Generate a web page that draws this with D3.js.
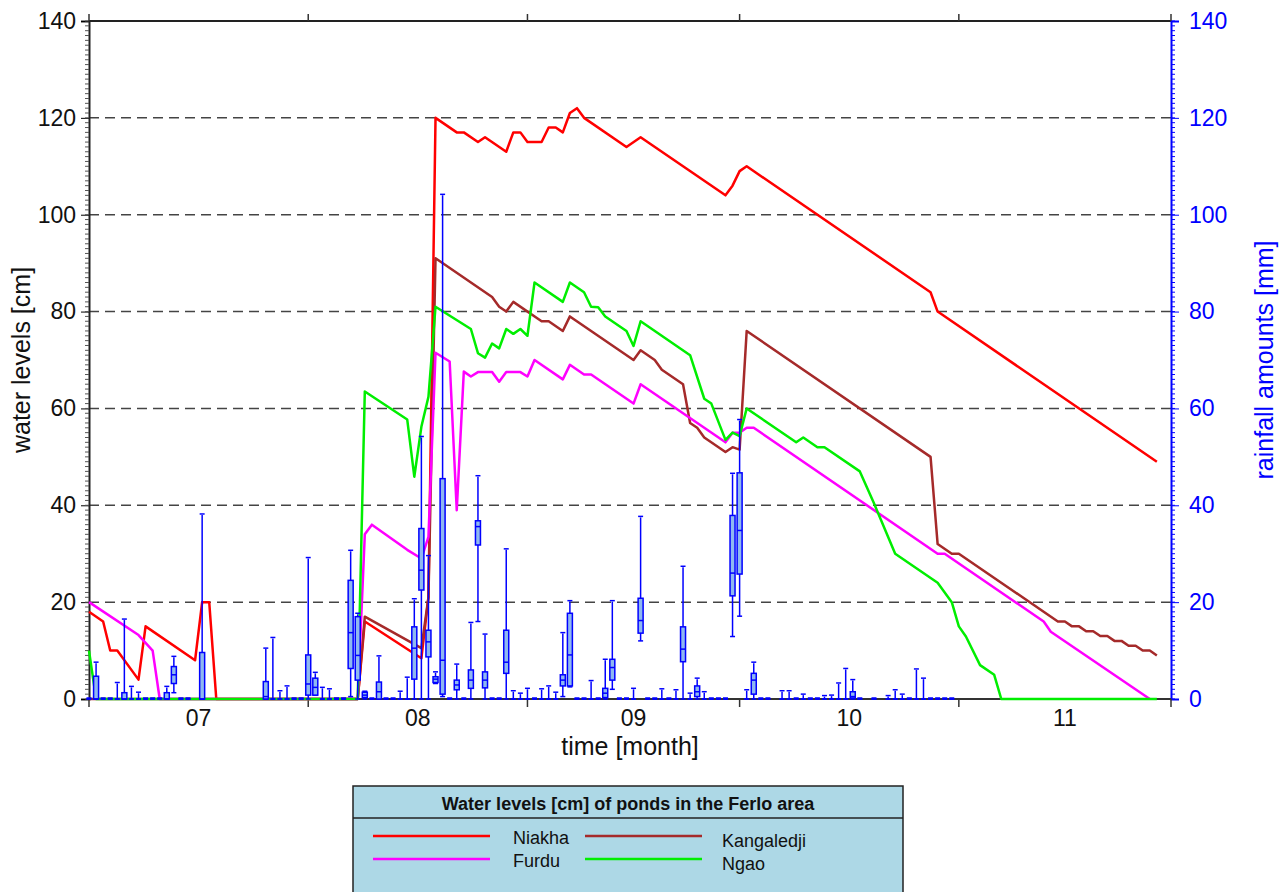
<!doctype html>
<html lang="en">
<head>
<meta charset="UTF-8">
<script src="https://cdnjs.cloudflare.com/ajax/libs/d3/7.8.5/d3.min.js"></script>
<title>Ferlo ponds</title>
<style>
  body { margin: 0; background: #fff; }
  text { font-family: "Liberation Sans", Arial, sans-serif; }
</style>
</head>
<body>
<div id="chart"></div>
<script>
// days counted from 1 July
const monthStarts = [0, 31, 62, 92, 123, 153];
const monthLabels = ["07", "08", "09", "10", "11"];
const yTicks = [0, 20, 40, 60, 80, 100, 120, 140];

// [day, water level cm]
const niakha = [[0,18],[2,16],[3,10],[4,10],[7,4],[8,15],[15,8],[16,20],[17,20],[18,0],[38,0],[39,16],[47,8.4],[48,21],
  [49,120],[52,117],[53,117],[55,115],[56,116],[59,113],[60,117],[61,117],[62,115],[64,115],[65,118],[66,118],[67,117],
  [68,121],[69,122],[70,120],[76,114],[78,116],[90,104],[91,106],[92,109],[93,110],[119,84],[120,80],[151,49]];
const kangaledji = [[0,0],[38,0],[39,17],[47,10.5],[48,21],[49,91],[57,83],[58,81],[59,80],[60,82],[64,78],[65,78],
  [67,76],[68,79],[77,70],[78,72],[80,70],[81,68],[84,65],[85,57],[86,56],[87,54],[90,51],[91,52],[92,51.5],[93,76],
  [119,50],[120,32],[122,30],[123,30],[137,16],[138,16],[139,15],[140,15],[141,14],[142,14],[143,13],[144,13],
  [145,12],[146,12],[147,11],[148,11],[149,10],[150,10],[151,9]];
const furdu = [[0,20],[7,13.2],[8,11.6],[9,10],[10,0],[38,0],[39,34],[40,36],[45,30.8],[47,29],[48,33.5],[49,71.5],
  [51,69.7],[52,39],[53,67.6],[54,66.6],[55,67.5],[57,67.5],[58,65.5],[59,67.5],[61,67.5],[62,66.6],[63,70],[67,66],
  [68,69],[70,67],[71,67],[77,61],[78,65],[90,53],[91,55],[92,55],[93,56],[94,56],[120,30],[121,30],[135,16],
  [136,13.9],[150,0]];
const ngao = [[0,10],[1,0],[38,0],[39,63.5],[45,57.7],[46,45.9],[47,56.2],[48,62.4],[49,81],[54,76.4],[55,71.4],
  [56,70.5],[57,73.4],[58,72.4],[59,76.4],[60,75.4],[61,76.4],[62,75],[63,86],[67,82],[68,86],[70,84],[71,81],
  [72,80.9],[73,79],[76,76],[77,72.9],[78,78],[85,71],[87,62],[88,61],[90,53.5],[91,55],[92,54.3],[93,60],[100,53],
  [101,54],[103,52],[104,52],[109,47],[111,40.4],[114,30],[120,24],[122,20],[123,15],[124,12.9],[126,7],[128,5],
  [129,0],[151,0]];

// rainfall [day, low, q1, median, q3, high] in mm
const rain = [[0,0,0,0,0,0],[1,0,0,0,4.7,7.4],[2,0,0,0,0,0],[3,0,0,0,0,0],[4,0,0,0,0,3.2],[5,0,0,0,1.3,16.3],
  [6,0,0,0,0,2.4],[7,0,0,0,0,1.2],[8,0,0,0,0,0],[9,0,0,0,0,0],[10,0,0,0,0,0],[11,0,0,0,1.3,2.4],
  [12,1.3,3.2,5,6.7,8.6],[13,0,0,0,0,0],[14,0,0,0,0,0],[16,0,0,0,9.6,38],
  [25,0,0,0.5,3.6,10.3],[26,0,0,0,0,12.5],[27,0,0,0,0,1.5],[28,0,0,0,0,2.5],[29,0,0,0,0,0],[30,0,0,0,0,0],
  [31,0,0.8,3.1,9.1,29],[32,0.8,0.8,2.4,4.3,5.3],[33,0,0,0,0,2.2],[34,0,0,0,0,1.9],[35,0,0,0,0,0],[36,0,0,0,0,0],
  [37,0.5,6.3,13.7,24.5,30.5],[38,0,3.9,9,17,17.5],[39,0,0.3,0.8,1.4,1.4],[40,0,0,0,0,0],[41,0,0,1.5,3.5,8.7],
  [42,0,0,0,0,0],[43,0,0,0,0,0],[44,0,0,0,0,1.4],[45,0,0,0,0,4.3],[46,0,4.1,10.5,14.9,20.5],
  [47,0,22.5,26.6,35.2,54],[48,0,8.7,11.8,14.2,29.4],[49,3.2,3.4,4.1,4.6,5.4],[50,0.5,1,8,45.5,104],
  [51,0,0,0,0,0],[52,0,1.9,2.9,3.9,7],[53,0,0,0,0,0],[54,0,2.2,3.9,6,15.6],[55,16,31.8,35.6,36.8,45.9],
  [56,0,2.3,3.9,5.6,13.2],[57,0,0,0,0,0],[58,0,0,0,0,0],[59,0,5.3,7.6,14.2,30.8],[60,0,0,0,0,1.5],
  [61,0,0,0,0,1],[62,0,0,0,0,2],[63,0,0,0,0,0],[64,0,0,0,0,1.9],[65,0,0,0,0,2.5],[66,0,0,0,0,1.2],
  [67,0.5,2.7,3.9,5,13.5],[68,2.5,2.7,9.1,17.7,20.1],[69,0,0,0,0,0],[70,0,0,0,0,0],[71,0,0,0,0,3.6],
  [72,0,0,0,0,0],[73,0,0.3,1.2,2.2,8],[74,2,3.9,6.5,8.2,20.1],[75,0,0,0,0,0],[76,0,0,0,0,0],[77,0,0,0,0,2],
  [78,12,13.6,16.2,20.8,37.5],[79,0,0,0,0,0],[80,0,0,0,0,0],[81,0,0,0,0,1.9],[82,0,0,0,0,0],[83,0,0,0,0,1.7],
  [84,0,7.7,10.3,14.9,27.2],[85,0,0,0,0,1],[86,0,0.5,1.5,2.7,4.1],[87,0,0,0,0,1.3],[88,0,0,0,0,0],
  [89,0,0,0,0,0],[90,0,0,0,0,0],[91,12.9,21.3,26,37.9,46.4],[92,17.1,25.8,34.8,46.7,57.5],[93,0,0,0,0,1.7],
  [94,0,1,3.9,5.3,7.4],[95,0,0,0,0,0],[96,0,0,0,0,0],[98,0,0,0,0,1.5],[99,0,0,0,0,1.5],[100,0,0,0,0,0],
  [101,0,0,0,0,0.8],[102,0,0,0,0,0],[103,0,0,0,0,0],[104,0,0,0,0,0.5],[105,0,0,0,0,0.6],[106,0,0,0,0,3.1],
  [107,0,0,0,0,6.1],[108,0,0.2,0.5,1.5,3.8],[109,0,0,0,0,0],[111,0,0,0,0,0],[113,0,0,0,0,0.5],
  [114,0,0,0,0,1.7],[115,0,0,0,0,0.8],[116,0,0,0,0,0],[117,0,0,0,0,6],[118,0,0,0,0,4.1],[119,0,0,0,0,0],
  [120,0,0,0,0,0],[121,0,0,0,0,0],[122,0,0,0,0,0]];

const series = [
  {name: "Niakha", values: niakha, color: "#ff0000"},
  {name: "Kangaledji", values: kangaledji, color: "#a52a2a"},
  {name: "Furdu", values: furdu, color: "#ff00ff"},
  {name: "Ngao", values: ngao, color: "#00ee00"}
];

const W = 1284, H = 892;
const margin = {top: 21, right: 113, bottom: 193, left: 89},
    width = W - margin.left - margin.right,
    height = H - margin.top - margin.bottom;

const svg = d3.select("#chart").append("svg")
    .attr("width", W).attr("height", H);
const g = svg.append("g").attr("transform", `translate(${margin.left},${margin.top})`);

const x = d3.scaleLinear().domain([0, 153]).range([0, width]);
const y = d3.scaleLinear().domain([0, 140]).range([height, 0]);

// dashed grid
g.append("g").selectAll("line")
    .data(yTicks.filter(d => d > 0 && d < 140))
    .join("line")
    .attr("x1", 0).attr("x2", width)
    .attr("y1", d => y(d)).attr("y2", d => y(d))
    .attr("stroke", "#444").attr("stroke-width", 1.5)
    .attr("stroke-dasharray", "10,6");

// top border
g.append("line").attr("x1", 0).attr("x2", width).attr("y1", 0).attr("y2", 0)
    .attr("stroke", "#222").attr("stroke-width", 2);

// left axis
const yLeft = g.append("g")
    .call(d3.axisLeft(y).tickValues(yTicks).tickSize(8).tickPadding(5).tickFormat(d3.format("d")));
yLeft.select(".domain").attr("stroke", "#222").attr("stroke-width", 2);
yLeft.selectAll("text").attr("font-size", 23).attr("fill", "#111");
yLeft.append("g").selectAll("line").data(d3.range(0, 141, 1))
    .join("line").attr("x1", -4).attr("x2", 0)
    .attr("y1", d => y(d)).attr("y2", d => y(d)).attr("stroke", "#555");

// right axis (rainfall)
const yRight = g.append("g").attr("transform", `translate(${width},0)`)
    .call(d3.axisRight(y).tickValues(yTicks).tickSize(8).tickPadding(10).tickFormat(d3.format("d")));
yRight.select(".domain").attr("stroke", "#0000ff").attr("stroke-width", 2);
yRight.selectAll("line").attr("stroke", "#0000ff");
yRight.selectAll("text").attr("font-size", 23).attr("fill", "#0000ff");
yRight.append("g").selectAll("line").data(d3.range(0, 141, 1))
    .join("line").attr("x1", 0).attr("x2", 4)
    .attr("y1", d => y(d)).attr("y2", d => y(d)).attr("stroke", "#0000ff");

// month ticks bottom and top
g.append("g").selectAll("line").data(monthStarts).join("line")
    .attr("x1", d => x(d)).attr("x2", d => x(d))
    .attr("y1", height).attr("y2", height + 8)
    .attr("stroke", "#333").attr("stroke-width", 1.5);
g.append("g").selectAll("line").data(monthStarts).join("line")
    .attr("x1", d => x(d)).attr("x2", d => x(d))
    .attr("y1", 0).attr("y2", -7)
    .attr("stroke", "#333").attr("stroke-width", 1.5);
g.append("g").selectAll("text").data(monthLabels).join("text")
    .attr("x", (d, i) => x((monthStarts[i] + monthStarts[i + 1]) / 2))
    .attr("y", height + 27)
    .attr("text-anchor", "middle").attr("font-size", 23).attr("fill", "#111")
    .text(d => d);

// bottom axis line
g.append("line").attr("x1", 0).attr("x2", width).attr("y1", height).attr("y2", height)
    .attr("stroke", "#333").attr("stroke-width", 2);

// water level lines
const line = d3.line().x(d => x(d[0])).y(d => y(d[1]));
g.append("g").selectAll("path").data(series).join("path")
    .attr("d", d => line(d.values))
    .attr("fill", "none").attr("stroke", d => d.color).attr("stroke-width", 2.5)
    .attr("stroke-linejoin", "round");

// rainfall box plots
const bw = 5;
const boxes = g.append("g").attr("stroke", "#0000ff").attr("stroke-width", 1.5);
const bx = boxes.selectAll("g").data(rain).join("g")
    .attr("transform", d => `translate(${x(d[0])},0)`);
bx.append("line").attr("x1", 0).attr("x2", 0)
    .attr("y1", d => y(d[1])).attr("y2", d => y(d[5]));
bx.append("line").attr("x1", -2.5).attr("x2", 2.5)
    .attr("y1", d => y(d[5]) - 1).attr("y2", d => y(d[5]) - 1);
bx.append("line").attr("x1", -2.5).attr("x2", 2.5)
    .attr("y1", d => y(d[1])).attr("y2", d => y(d[1]));
bx.append("rect").attr("x", -bw / 2).attr("width", bw)
    .attr("y", d => y(d[4])).attr("height", d => y(d[2]) - y(d[4]))
    .attr("fill", "#8fb8f0");
bx.append("line").attr("x1", -bw / 2).attr("x2", bw / 2)
    .attr("y1", d => y(d[3])).attr("y2", d => y(d[3]));

// axis titles
svg.append("text").attr("transform", "translate(30,360) rotate(-90)")
    .attr("text-anchor", "middle").attr("font-size", 25).attr("fill", "#111")
    .text("water levels [cm]");
svg.append("text").attr("transform", "translate(1273,360) rotate(-90)")
    .attr("text-anchor", "middle").attr("font-size", 25).attr("fill", "#0000ff")
    .text("rainfall amounts [mm]");
svg.append("text").attr("x", 630).attr("y", 755)
    .attr("text-anchor", "middle").attr("font-size", 25).attr("fill", "#111")
    .text("time [month]");

// legend
const lg = svg.append("g").attr("transform", "translate(353,786)");
lg.append("rect").attr("width", 550).attr("height", 120)
    .attr("fill", "#add8e6").attr("stroke", "#222").attr("stroke-width", 1.5);
lg.append("line").attr("x1", 0).attr("x2", 550).attr("y1", 32).attr("y2", 32)
    .attr("stroke", "#222").attr("stroke-width", 1.5);
lg.append("text").attr("x", 275).attr("y", 24).attr("text-anchor", "middle")
    .attr("font-size", 18).attr("font-weight", "bold").attr("fill", "#111")
    .text("Water levels [cm] of ponds in the Ferlo area");
const item = lg.selectAll(".item").data(series).join("g").attr("class", "item")
    .attr("transform", (d, i) => `translate(${i % 2 ? 232 : 20},${i < 2 ? 50 : 73})`);
item.append("line").attr("x1", 0).attr("x2", 117)
    .attr("stroke", d => d.color).attr("stroke-width", 2.5);
item.append("text").attr("x", (d, i) => i % 2 ? 137 : 140).attr("y", (d, i) => i % 2 ? 11 : 8)
    .attr("font-size", 18).attr("fill", "#111")
    .text(d => d.name);
</script>
</body>
</html>
